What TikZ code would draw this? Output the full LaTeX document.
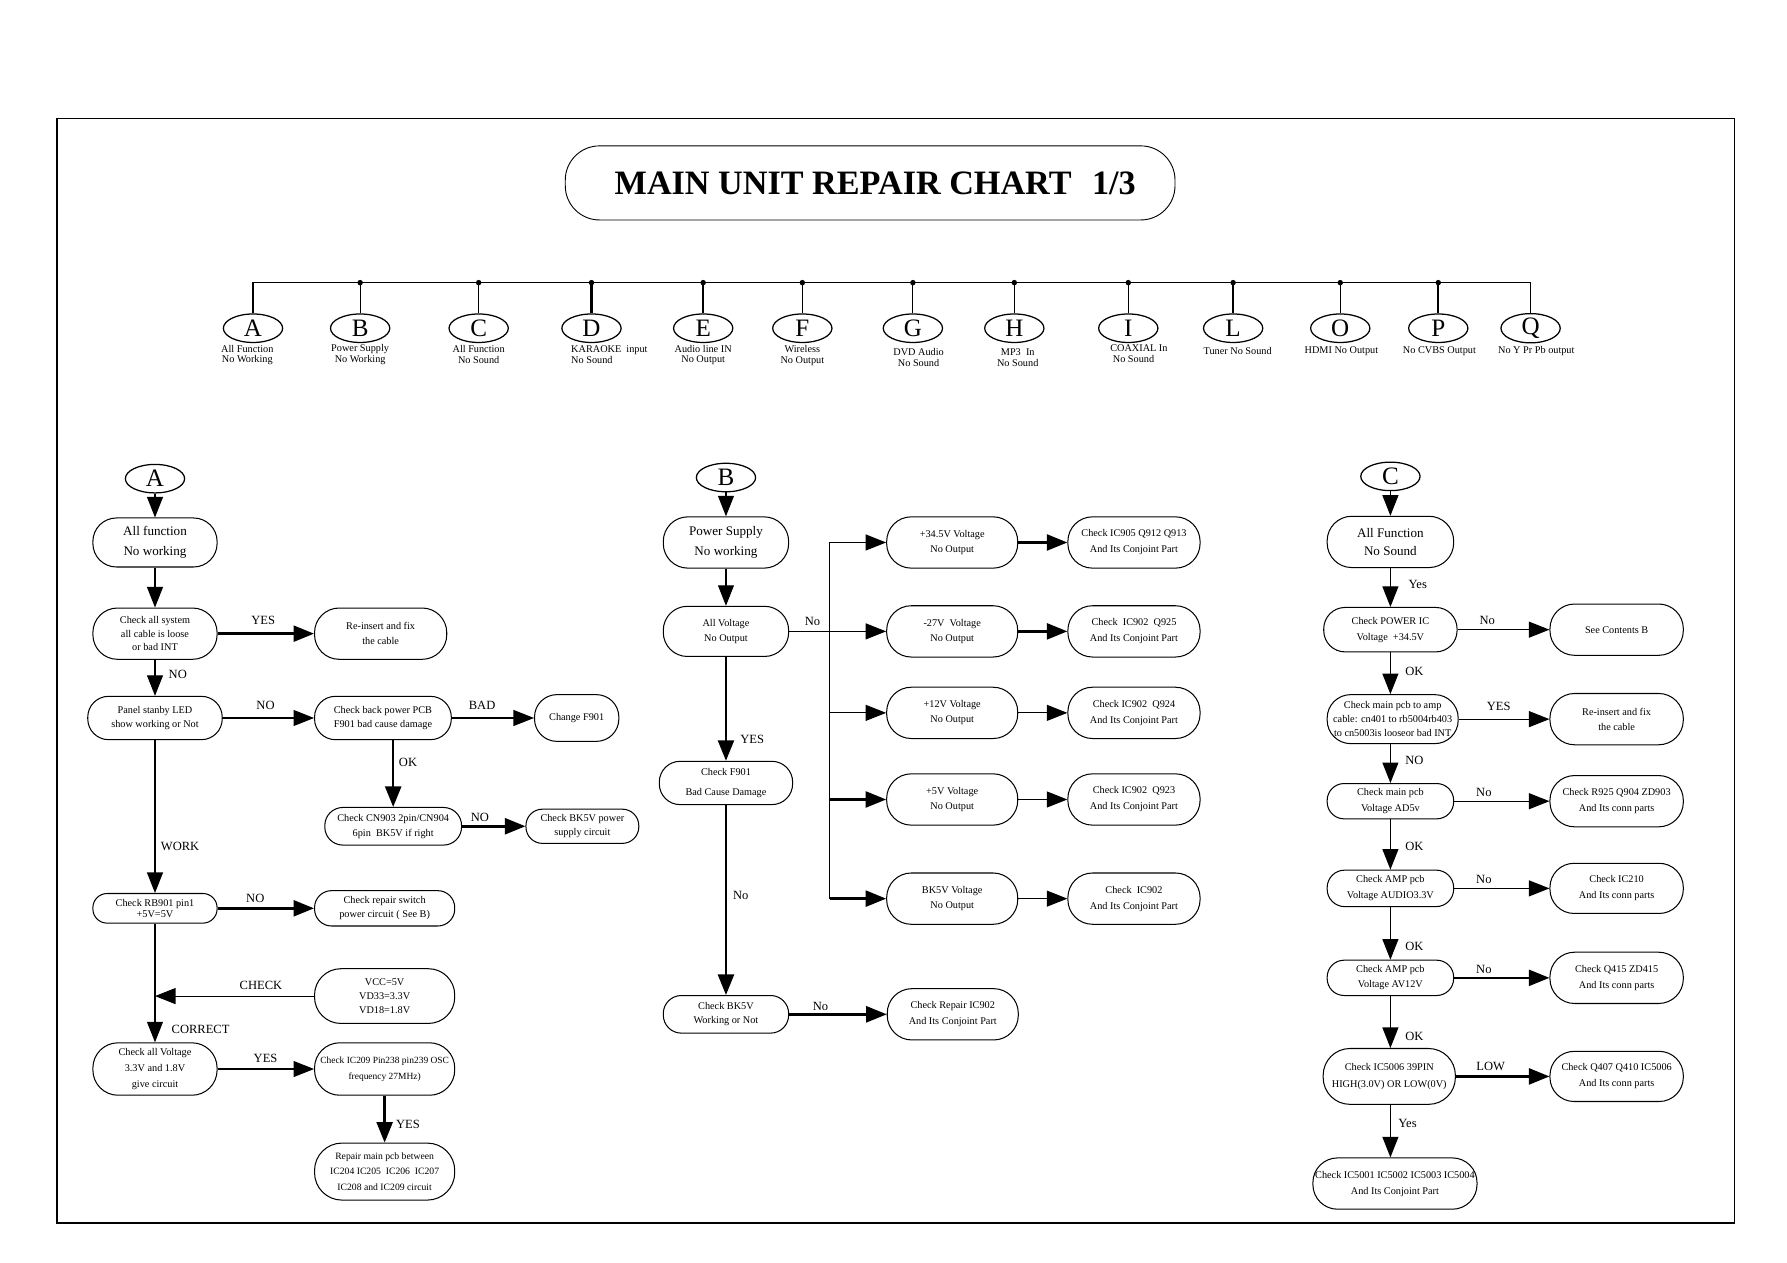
\documentclass[tikz,border=0pt]{standalone}
\usepackage{fontspec}
\setmainfont{Liberation Serif}
\usetikzlibrary{arrows.meta,shapes.geometric,calc}
\newcommand\boxfont{\fontsize{9}{13}\selectfont}
\newcommand\headfont{\fontsize{11.5}{18}\selectfont}
\newcommand\letfont{\fontsize{22}{22}\selectfont}
\newcommand\edgefont{\fontsize{11}{11}\selectfont}
\newcommand\tagfont{\fontsize{9}{9.5}\selectfont}
\newcommand\titlefont{\fontsize{30}{30}\selectfont\bfseries}
\newcommand\fsz[2]{\fontsize{#1}{#2}\selectfont}
\tikzset{
  bx/.style n args={2}{draw, rectangle, inner sep=0pt, align=center, font=\boxfont,
    line width=0.9pt, minimum width=#1pt, minimum height=#2pt, rounded corners={#2*0.48pt}},
  lt/.style={draw, ellipse, minimum width=52pt, minimum height=25pt, inner sep=0pt,
    font=\letfont, line width=1.1pt},
  ar/.style={line width=1pt, -{Triangle[length=18pt,width=14pt]}},
  arb/.style={line width=2.2pt, -{Triangle[length=18pt,width=14pt]}},
  lab/.style={font=\edgefont, inner sep=0pt},
  tg/.style={font=\tagfont, inner sep=0pt, align=center},
}
\begin{document}
\begin{tikzpicture}[x=1pt,y=-1pt]
\fill[white] (0,0) rectangle (1568,1108);
\useasboundingbox (0,0) rectangle (1568,1108);
% frame
\draw[line width=1.2pt] (50,104) rectangle (1522,1073);
% title
\node[draw, rounded corners=30pt, minimum width=535pt, minimum height=65pt, line width=0.8pt,
  font=\titlefont, inner sep=0pt] (title) at (763.5,160.5) {\hspace*{9pt}MAIN UNIT REPAIR CHART\hspace{0.6em}1/3};
% top index
\foreach \n/\x in {A/222,B/316,C/420,D/519,E/617,F/704,G/801,H/890,I/990,L/1082,O/1176,P/1262,Q/1343}{
  \node[lt] (e\n) at (\x,288) {\n};
  \coordinate (t\n) at (\x,248);
}
\draw[line width=1.4pt] (eA.north) -- (tA) -- (tQ) -- (eQ.north);
\foreach \n in {B,C,F,G,H,I,O}{\draw[line width=1pt] (t\n) -- (e\n.north);}
\foreach \n in {D,E,L,P}{\draw[line width=1.8pt] (t\n) -- (e\n.north);}
\foreach \n in {B,C,D,E,F,G,H,I,L,O,P}{\fill (t\n) circle (2.4pt);}
\node[tg] (gA) at (217,311.5) {All Function\\No Working};
\node[tg] (gB) at (316,311) {Power Supply\\No Working};
\node[tg] (gC) at (420,311) {All Function\\No Sound};
\node[tg, anchor=west, align=left] (gD) at (501,311) {KARAOKE\ \ input\\No Sound};
\node[tg] (gE) at (617,311.5) {Audio line IN\\No Output};
\node[tg] (gF) at (704,312) {Wireless\\No Output};
\node[tg] (gG) at (806,313.5) {DVD Audio\\No Sound};
\node[tg] (gH) at (893,313.5) {MP3\ \ In\\No Sound};
\node[tg, anchor=west, align=left] (gI) at (974,310.5) {COAXIAL In\\\ No Sound};
\node[tg] (gL) at (1086,308) {Tuner No Sound};
\node[tg] (gO) at (1177,308) {HDMI No Output};
\node[tg] (gP) at (1263,308) {No CVBS Output};
\node[tg] (gQ) at (1348,308) {No Y Pr Pb output};

% ---------------- Section A
\node[lt] (sA) at (136,420) {A};
\node[bx={109}{43}, font=\headfont] (A1) at (136,476) {All function\\No working};
\node[bx={109}{45}, font=\fsz{9}{12}] (A2) at (136,556) {Check all system\\all cable is loose\\or bad INT};
\node[bx={116}{45}] (A3) at (334,556) {Re-insert and fix\\the cable};
\node[bx={118}{38}] (A4) at (136,630) {Panel stanby LED\\show working or Not};
\node[bx={120}{38}] (A5) at (336,630) {Check back power PCB\\F901 bad cause damage};
\node[bx={74}{41}] (A6) at (506,630) {Change F901};
\node[bx={120}{33}] (A7) at (345,725) {Check CN903 2pin/CN904\\6pin\ \ BK5V if right};
\node[bx={99}{30}, font=\fsz{9}{12}] (A8) at (511,725) {Check BK5V power\\supply circuit};
\node[bx={109}{26}, font=\fsz{9}{10}] (A9) at (136,797) {Check RB901 pin1\\+5V=5V};
\node[bx={123}{31}, font=\fsz{9}{12}] (A10) at (337.5,797) {Check repair switch\\power circuit ( See B)};
\node[bx={123}{48}, font=\fsz{9}{12}] (A11) at (337.5,874) {VCC=5V\\VD33=3.3V\\VD18=1.8V};
\node[bx={109}{46}, font=\fsz{9}{14}] (A12) at (136,938) {Check all Voltage\\3.3V and 1.8V\\give circuit};
\node[bx={123}{46}, font=\fsz{8.3}{14}] (A13) at (337.5,938) {Check IC209 Pin238 pin239 OSC\\frequency 27MHz)};
\node[bx={123}{50}, font=\fsz{8.5}{13.5}] (A14) at (337.5,1028) {Repair main pcb between\\IC204 IC205\ \ IC206\ \ IC207\\IC208 and IC209 circuit};
\coordinate (chk) at (A9.south |- A11.west);
\draw[ar] (sA.south) -- (A1.north);
\draw[ar] (A1.south) -- (A2.north);
\draw[arb] (A2.east) -- (A3.west);
\draw[ar] (A2.south) -- (A4.north);
\draw[ar] (A4.east) -- (A5.west);
\draw[ar] (A5.east) -- (A6.west);
\draw[arb] (A5.south -| A7.north) -- (A7.north);
\draw[arb] (A7.east) -- (A8.west);
\draw[ar] (A4.south) -- (A9.north);
\draw[arb] (A9.east) -- (A10.west);
\draw[ar] (A11.west) -- (chk);
\draw[ar] (A9.south) -- (A12.north);
\draw[ar] (A12.east) -- (A13.west);
\draw[arb] (A13.south) -- (A14.north);
\node[lab] (lA1) at (231,544) {YES};
\node[lab] (lA2) at (156,592) {NO};
\node[lab] (lA3) at (233,619) {NO};
\node[lab] (lA4) at (423,619) {BAD};
\node[lab] (lA5) at (358,669) {OK};
\node[lab] (lA6) at (421,717) {NO};
\node[lab] (lA7) at (158,743) {WORK};
\node[lab] (lA8) at (224,788) {NO};
\node[lab] (lA9) at (229,865) {CHECK};
\node[lab] (lA10) at (176,903) {CORRECT};
\node[lab] (lA11) at (233,929) {YES};
\node[lab] (lA12) at (358,987) {YES};

% ---------------- Section B
\node[lt] (sB) at (637,419) {B};
\node[bx={110}{45}, font=\headfont] (B1) at (637,476) {Power Supply\\No working};
\node[bx={110}{44}] (B2) at (637,554) {All Voltage\\No Output};
\node[bx={117}{38}, font=\fsz{9}{17}] (B3) at (637,687) {Check F901\\Bad Cause Damage};
\node[bx={110}{33}, font=\fsz{9}{12}] (B4) at (637,890) {Check BK5V\\Working or Not};
\node[bx={115}{45}, font=\fsz{9}{14}] (B5) at (836,890) {Check Repair IC902\\And Its Conjoint Part};
\node[bx={115}{45}] (BV1) at (835.5,476) {+34.5V Voltage\\No Output};
\node[bx={115}{45}] (BV2) at (835.5,554) {-27V\ \ Voltage\\No Output};
\node[bx={115}{45}] (BV3) at (835.5,625.5) {+12V Voltage\\No Output};
\node[bx={115}{45}] (BV4) at (835.5,701.5) {+5V Voltage\\No Output};
\node[bx={115}{45}] (BV5) at (835.5,788.5) {BK5V Voltage\\No Output};
\node[bx={116}{45}, font=\fsz{9}{14}] (BC1) at (995,476) {Check IC905 Q912 Q913\\And Its Conjoint Part};
\node[bx={116}{45}, font=\fsz{9}{14}] (BC2) at (995,554) {Check\ \ IC902\ \ Q925\\And Its Conjoint Part};
\node[bx={116}{45}, font=\fsz{9}{14}] (BC3) at (995,625.5) {Check IC902\ \ Q924\\And Its Conjoint Part};
\node[bx={116}{45}, font=\fsz{9}{14}] (BC4) at (995,701.5) {Check IC902\ \ Q923\\And Its Conjoint Part};
\node[bx={116}{45}, font=\fsz{9}{14}] (BC5) at (995,788.5) {Check\ \ IC902\\And Its Conjoint Part};
\coordinate (bus) at (728,554);
\draw[ar] (sB.south) -- (B1.north);
\draw[ar] (B1.south) -- (B2.north);
\draw[ar] (B2.east) -- (BV2.west);
\draw[line width=1pt] (bus |- BV1.west) -- (bus |- BV5.west);
\draw[ar] (bus |- BV1.west) -- (BV1.west);
\draw[ar] (bus |- BV3.west) -- (BV3.west);
\draw[arb] (bus |- BV4.west) -- (BV4.west);
\draw[arb] (bus |- BV5.west) -- (BV5.west);
\draw[arb] (BV1.east) -- (BC1.west);
\draw[arb] (BV2.east) -- (BC2.west);
\draw[ar] (BV3.east) -- (BC3.west);
\draw[ar] (BV4.east) -- (BC4.west);
\draw[ar] (BV5.east) -- (BC5.west);
\draw[arb] (B2.south) -- (B3.north);
\draw[arb] (B3.south) -- (B4.north);
\draw[arb] (B4.east) -- (B5.west);
\node[lab] (lB1) at (713,545) {No};
\node[lab] (lB2) at (660,649) {YES};
\node[lab] (lB3) at (650,786) {No};
\node[lab] (lB4) at (720,883) {No};

% ---------------- Section C
\node[lt] (sC) at (1220,418) {C};
\node[bx={111}{45}, font=\fsz{11.5}{16}] (C1) at (1220,475.5) {All Function\\No Sound};
\node[bx={117}{39}, font=\fsz{9}{14}] (C2) at (1220,552.5) {Check POWER IC\\Voltage\ \ +34.5V};
\node[bx={117}{45}] (C3) at (1418.5,552.5) {See Contents B};
\node[bx={115}{43}, font=\fsz{9}{12.5}] (C4) at (1222,631) {Check main pcb to amp\\cable: cn401 to rb5004rb403\\to cn5003is looseor bad INT};
\node[bx={117}{45}] (C5) at (1418.5,631) {Re-insert and fix\\the cable};
\node[bx={111}{31}, font=\fsz{9}{14}] (C6) at (1220,703) {Check main pcb\\Voltage AD5v};
\node[bx={117}{45}, font=\fsz{9}{14}] (C7) at (1418.5,703) {Check R925 Q904 ZD903\\And Its conn parts};
\node[bx={111}{32}, font=\fsz{9}{14}] (C8) at (1220,779.5) {Check AMP pcb\\Voltage AUDIO3.3V};
\node[bx={117}{44}, font=\fsz{9}{14}] (C9) at (1418.5,779.5) {Check IC210\\And Its conn parts};
\node[bx={111}{31}] (C10) at (1220,858) {Check AMP pcb\\Voltage AV12V};
\node[bx={117}{45}, font=\fsz{9}{14}] (C11) at (1418.5,858) {Check Q415 ZD415\\And Its conn parts};
\node[bx={116}{49}, font=\fsz{9}{15}] (C12) at (1219,944.5) {Check IC5006 39PIN\\HIGH(3.0V) OR LOW(0V)};
\node[bx={117}{44}, font=\fsz{9}{14}] (C13) at (1418.5,944.5) {Check Q407 Q410 IC5006\\And Its conn parts};
\node[bx={144}{45}, font=\fsz{9}{14}] (C14) at (1224,1038.5) {Check IC5001 IC5002 IC5003 IC5004\\And Its Conjoint Part};
\coordinate (cx) at (1220,0);
\draw[ar] (sC.south) -- (C1.north);
\draw[ar] (C1.south) -- (C2.north);
\draw[ar] (C2.east) -- (C3.west);
\draw[ar] (C2.south) -- (cx |- C4.north);
\draw[ar] (C4.east) -- (C5.west);
\draw[ar] (cx |- C4.south) -- (C6.north);
\draw[ar] (C6.east) -- (C7.west);
\draw[ar] (C6.south) -- (C8.north);
\draw[ar] (C8.east) -- (C9.west);
\draw[ar] (C8.south) -- (C10.north);
\draw[arb] (C10.east) -- (C11.west);
\draw[ar] (C10.south) -- (cx |- C12.north);
\draw[arb] (C12.east) -- (C13.west);
\draw[ar] (cx |- C12.south) -- (cx |- C14.north);
\node[lab] (lC1) at (1244,513) {Yes};
\node[lab] (lC2) at (1305,544) {No};
\node[lab] (lC3) at (1241,589) {OK};
\node[lab] (lC4) at (1315,620) {YES};
\node[lab] (lC5) at (1241,667) {NO};
\node[lab] (lC6) at (1302,695) {No};
\node[lab] (lC7) at (1241,743) {OK};
\node[lab] (lC8) at (1302,772) {No};
\node[lab] (lC9) at (1241,830) {OK};
\node[lab] (lC10) at (1302,851) {No};
\node[lab] (lC11) at (1241,909) {OK};
\node[lab] (lC12) at (1308,936) {LOW};
\node[lab] (lC13) at (1235,986) {Yes};
\end{tikzpicture}
\end{document}
